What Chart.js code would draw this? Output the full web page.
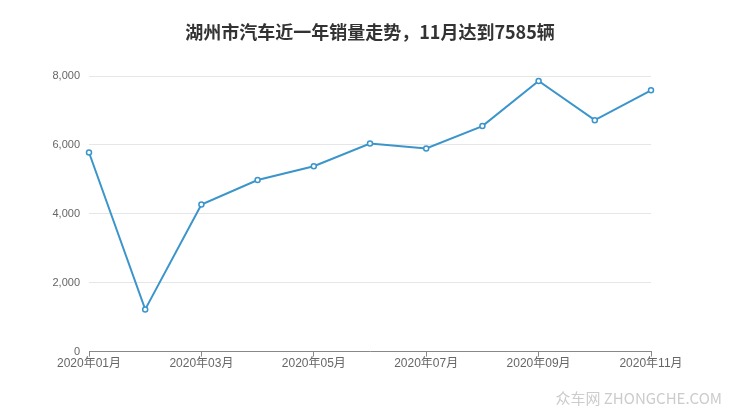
<!DOCTYPE html>
<html>
<head>
<meta charset="utf-8">
<script src="https://cdn.jsdelivr.net/npm/chart.js@4/dist/chart.umd.min.js"></script>
<style>
  html, body { margin: 0; padding: 0; background: #fff; }
  #wrap { width: 740px; height: 417px; }
</style>
</head>
<body>
<div id="wrap"><canvas id="chart" width="740" height="417"></canvas></div>
<script>
const months = ['2020年01月', '2020年02月', '2020年03月', '2020年04月', '2020年05月', '2020年06月',
  '2020年07月', '2020年08月', '2020年09月', '2020年10月', '2020年11月'];
const sales = [5780, 1225, 4270, 4980, 5380, 6040, 5895, 6545, 7855, 6718, 7585];
const yTicks = [0, 2000, 4000, 6000, 8000];
const titleText = '湖州市汽车近一年销量走势，11月达到7585辆';

const fontFamily = '"Liberation Sans", "Noto Sans CJK SC", Arial, sans-serif';

// 标题居中于整个画布 + 水印
const decor = {
  id: 'decor',
  afterDraw(chart) {
    const ctx = chart.ctx;
    ctx.save();
    ctx.fillStyle = '#333333';
    ctx.font = 'bold 18px "Noto Sans CJK SC", sans-serif';
    ctx.textAlign = 'center';
    ctx.textBaseline = 'middle';
    ctx.fillText(titleText, 370, 32);

    ctx.fillStyle = '#cccccc';
    ctx.font = '15px "Noto Sans CJK SC", "Liberation Sans", sans-serif';
    ctx.textAlign = 'right';
    ctx.fillText('众车网 ZHONGCHE.COM', 722, 398);
    ctx.restore();
  }
};

new Chart(document.getElementById('chart').getContext('2d'), {
  type: 'line',
  data: {
    datasets: [{
      data: sales.map((v, i) => ({ x: i, y: v })),
      borderColor: '#3b95cb',
      borderWidth: 2,
      pointRadius: 2.5,
      pointBorderWidth: 1.5,
      pointBackgroundColor: '#ffffff',
      pointBorderColor: '#3b95cb',
      tension: 0,
      clip: false
    }]
  },
  options: {
    responsive: false,
    animation: false,
    layout: { padding: { left: 0, right: 89, top: 76, bottom: 46 } },
    plugins: {
      legend: { display: false },
      tooltip: { enabled: false },
      title: { display: false }
    },
    scales: {
      x: {
        type: 'linear',
        min: 0,
        max: months.length - 1,
        afterBuildTicks: scale => { scale.ticks = months.map((m, i) => ({ value: i })).filter(t => t.value % 2 === 0); },
        border: { color: '#888888', width: 1 },
        grid: { drawOnChartArea: false, color: '#888888', tickLength: 5 },
        ticks: {
          color: '#666666',
          font: { family: fontFamily, size: 12 },
          padding: 0,
          maxRotation: 0,
          callback: v => months[v]
        }
      },
      y: {
        min: 0,
        max: 8000,
        afterBuildTicks: scale => { scale.ticks = yTicks.map(v => ({ value: v })); },
        afterFit: scale => { scale.width = 89; },
        border: { display: false },
        grid: { color: '#e6e6e6', drawTicks: false },
        ticks: {
          color: '#666666',
          font: { family: fontFamily, size: 11 },
          padding: 9,
          callback: v => v.toLocaleString('en-US')
        }
      }
    }
  },
  plugins: [decor]
});
</script>
</body>
</html>
